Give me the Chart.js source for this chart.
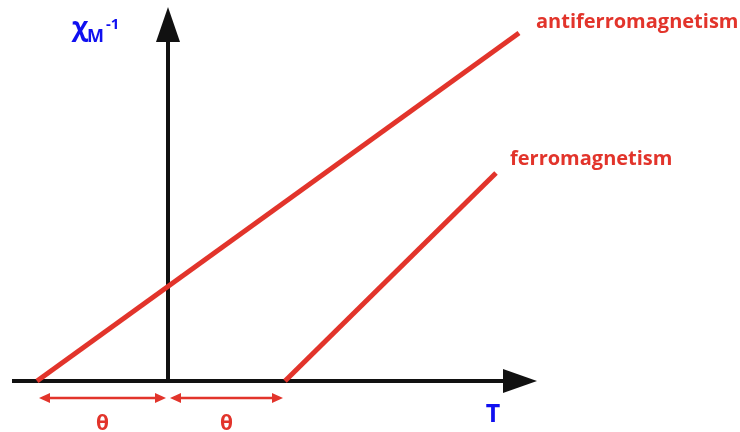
<!DOCTYPE html>
<html>
<head>
<meta charset="utf-8">
<script src="https://cdn.jsdelivr.net/npm/chart.js@4"></script>
<style>
  body { margin: 0; background: #fff; }
  #wrap { width: 740px; height: 432px; }
</style>
</head>
<body>
<div id="wrap"><canvas id="chart" width="740" height="432"></canvas></div>
<script>
// schematic data: T on x, inverse susceptibility on y (arbitrary units)
const antiferroT = [-1.31, 3.51];
const antiferroChi = [0, 3.48];
const ferroT = [1.17, 3.28];
const ferroChi = [0, 2.08];

const curveLabels = ['antiferromagnetism', 'ferromagnetism'];
const thetaMarks = [-1.31, 0, 1.17]; // -theta, origin, +theta
const xRange = [-1.68, 5.72];
const yRange = [-0.51, 3.81];

const red = '#e2342b';
const blue = '#1010f0';

function toPoints(xs, ys) {
  return xs.map((x, i) => ({ x: x, y: ys[i] }));
}

function arrowHead(ctx, x, y, dx, dy, len, half) {
  // filled triangle with its tip at (x, y) pointing along (dx, dy)
  ctx.beginPath();
  ctx.moveTo(x, y);
  ctx.lineTo(x - dx * len - dy * half, y - dy * len + dx * half);
  ctx.lineTo(x - dx * len + dy * half, y - dy * len - dx * half);
  ctx.closePath();
  ctx.fill();
}

const axesPlugin = {
  id: 'axes',
  beforeDatasetsDraw(chart) {
    const ctx = chart.ctx;
    const xs = chart.scales.x, ys = chart.scales.y;
    const x0 = xs.getPixelForValue(0), y0 = ys.getPixelForValue(0);
    ctx.save();
    ctx.strokeStyle = '#111';
    ctx.fillStyle = '#111';
    ctx.lineWidth = 4;
    // horizontal axis
    ctx.beginPath();
    ctx.moveTo(xs.getPixelForValue(-1.56), y0);
    ctx.lineTo(xs.getPixelForValue(3.4), y0);
    ctx.stroke();
    arrowHead(ctx, xs.getPixelForValue(3.69), y0, 1, 0, 34, 12);
    // vertical axis
    ctx.beginPath();
    ctx.moveTo(x0, y0 + 2);
    ctx.lineTo(x0, ys.getPixelForValue(3.45));
    ctx.stroke();
    arrowHead(ctx, x0, ys.getPixelForValue(3.74), 0, -1, 35, 12);
    ctx.restore();
  },
  afterDatasetsDraw(chart) {
    const ctx = chart.ctx;
    const xs = chart.scales.x, ys = chart.scales.y;
    ctx.save();
    // theta double arrows
    const ya = ys.getPixelForValue(-0.17);
    ctx.strokeStyle = red;
    ctx.fillStyle = red;
    ctx.lineWidth = 2.5;
    for (let i = 0; i < thetaMarks.length - 1; i++) {
      const a = xs.getPixelForValue(thetaMarks[i]) + 2;
      const b = xs.getPixelForValue(thetaMarks[i + 1]) - 2;
      ctx.beginPath();
      ctx.moveTo(a + 6, ya);
      ctx.lineTo(b - 6, ya);
      ctx.stroke();
      arrowHead(ctx, a, ya, -1, 0, 11, 5);
      arrowHead(ctx, b, ya, 1, 0, 11, 5);
      ctx.font = 'bold 21px "Open Sans"';
      ctx.textAlign = 'center';
      ctx.textBaseline = 'alphabetic';
      ctx.fillText('θ', (a + b) / 2, ys.getPixelForValue(-0.49));
    }
    // curve labels
    ctx.textAlign = 'left';
    ctx.font = 'bold 20px "Open Sans"';
    ctx.fillText(curveLabels[0], xs.getPixelForValue(3.68), ys.getPixelForValue(3.53));
    ctx.fillText(curveLabels[1], xs.getPixelForValue(3.42), ys.getPixelForValue(2.16));
    // axis titles
    ctx.fillStyle = blue;
    ctx.font = 'bold 25px "Open Sans"';
    ctx.textAlign = 'center';
    ctx.fillText('T', xs.getPixelForValue(3.25), ys.getPixelForValue(-0.41));
    ctx.textAlign = 'left';
    ctx.font = 'bold 27px "Open Sans"';
    const cx = xs.getPixelForValue(-0.96), cy = ys.getPixelForValue(3.45);
    ctx.fillText('χ', cx, cy);
    const w = ctx.measureText('χ').width;
    ctx.font = 'bold 18px "Open Sans"';
    ctx.fillText('M', cx + w - 1, cy + 6);
    const wm = ctx.measureText('M').width;
    ctx.font = 'bold 15px "Open Sans"';
    ctx.fillText('-1', cx + w + wm + 1, cy - 7);
    ctx.restore();
  }
};

new Chart(document.getElementById('chart'), {
  type: 'line',
  data: {
    datasets: [{
      label: curveLabels[0],
      data: toPoints(antiferroT, antiferroChi),
      borderColor: red,
      borderWidth: 5,
      pointRadius: 0
    }, {
      label: curveLabels[1],
      data: toPoints(ferroT, ferroChi),
      borderColor: red,
      borderWidth: 5,
      pointRadius: 0
    }]
  },
  options: {
    responsive: false,
    animation: false,
    layout: { padding: 0 },
    plugins: { legend: { display: false }, tooltip: { enabled: false } },
    scales: {
      x: { type: 'linear', min: xRange[0], max: xRange[1], display: false },
      y: { type: 'linear', min: yRange[0], max: yRange[1], display: false }
    }
  },
  plugins: [axesPlugin]
});
</script>
</body>
</html>
